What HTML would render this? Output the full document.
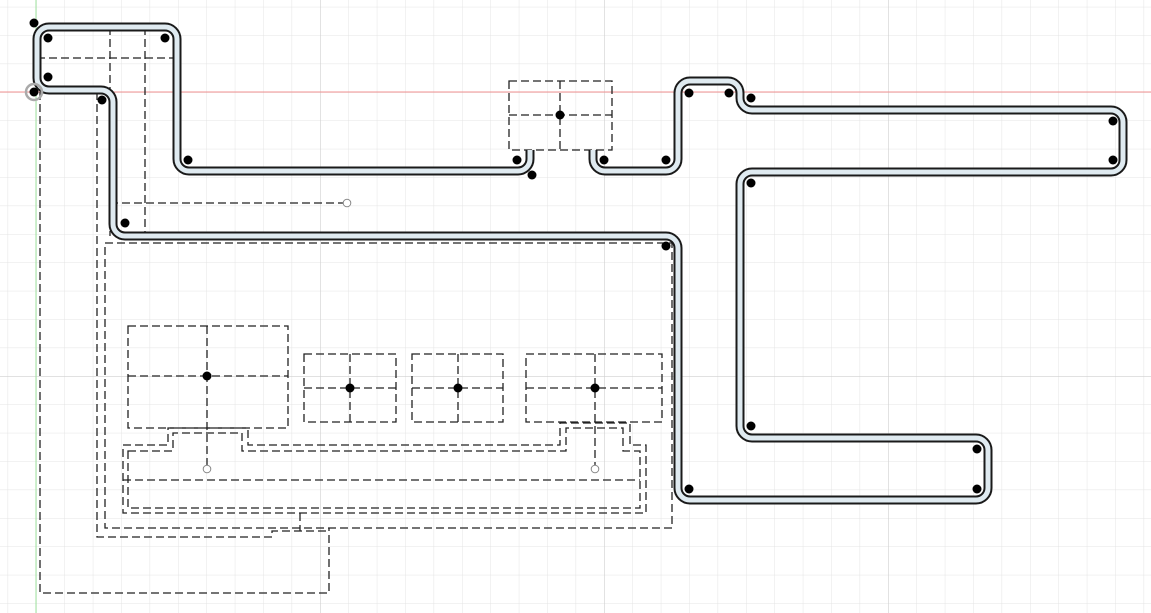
<!DOCTYPE html>
<html><head><meta charset="utf-8"><style>html,body{margin:0;padding:0;background:#fff}svg{display:block}</style></head>
<body>
<svg width="1151" height="613" viewBox="0 0 1151 613" xmlns="http://www.w3.org/2000/svg">
<defs>
<pattern id="g" x="36" y="92" width="28.4" height="28.4" patternUnits="userSpaceOnUse">
<path d="M0 0H28.4M0 0V28.4" stroke="#e4e4e4" stroke-width="1" fill="none"/>
</pattern>
<pattern id="G" x="36" y="92" width="284" height="284" patternUnits="userSpaceOnUse">
<path d="M0 0H284M0 0V284" stroke="#cfcfcf" stroke-width="1.2" fill="none"/>
</pattern>
</defs>
<rect width="1151" height="613" fill="url(#g)"/>
<rect width="1151" height="613" fill="url(#G)"/>
<line x1="0" y1="92" x2="1151" y2="92" stroke="#f19090" stroke-width="1"/>
<line x1="36" y1="0" x2="36" y2="613" stroke="#9ee39e" stroke-width="1"/>

<g fill="none" stroke="#222" stroke-width="1.3" stroke-dasharray="8,4">
<line x1="37" y1="58" x2="177" y2="58"/>
<line x1="110" y1="27" x2="110" y2="236"/>
<line x1="145" y1="27" x2="145" y2="238"/>
<line x1="110" y1="203" x2="343" y2="203"/>
<path d="M40 92 V593 H329 V528"/>
<path d="M97 92 V537 H272 V531 H329"/>
<line x1="300" y1="513" x2="300" y2="531"/>
<rect x="105" y="243" width="567" height="285"/>
<path d="M123 445 H168 V428 H248 V445 H560 V423 H630 V445 H646 V513 H123 Z"/>
<path d="M128 451 H173 V433 H242 V451 H566 V428 H623 V451 H640 V508 H128 Z"/>
<line x1="123" y1="480" x2="640" y2="480"/>
<rect x="509" y="81" width="103" height="69"/>
<line x1="509" y1="115" x2="612" y2="115"/><line x1="560" y1="81" x2="560" y2="150"/>
<rect x="128" y="326" width="160" height="102"/>
<line x1="128" y1="376" x2="288" y2="376"/><line x1="207" y1="326" x2="207" y2="465"/>
<rect x="304" y="354" width="92" height="68"/>
<line x1="304" y1="388" x2="396" y2="388"/><line x1="350" y1="354" x2="350" y2="422"/>
<rect x="412" y="354" width="91" height="68"/>
<line x1="412" y1="388" x2="503" y2="388"/><line x1="458" y1="354" x2="458" y2="422"/>
<rect x="526" y="354" width="136" height="68"/>
<line x1="526" y1="388" x2="662" y2="388"/><line x1="595" y1="354" x2="595" y2="465"/>
</g>

<g fill="none" stroke-linejoin="round">
<path d="M530 150 V159 a12 12 0 0 1 -12 12 H189 a12 12 0 0 1 -12 -12 V39 a12 12 0 0 0 -12 -12 H49 a12 12 0 0 0 -12 12 V78 a12 12 0 0 0 12 12 H101 a12 12 0 0 1 12 12 V224 a12 12 0 0 0 12 12 H666 a12 12 0 0 1 12 12 V488 a12 12 0 0 0 12 12 H976 a12 12 0 0 0 12 -12 V450 a12 12 0 0 0 -12 -12 H752 a12 12 0 0 1 -12 -12 V184 a12 12 0 0 1 12 -12 H1111 a12 12 0 0 0 12 -12 V122 a12 12 0 0 0 -12 -12 H752 a12 12 0 0 1 -12 -12 V93 a12 12 0 0 0 -12 -12 H690 a12 12 0 0 0 -12 12 V159 a12 12 0 0 1 -12 12 H605 a12 12 0 0 1 -12 -12 V150" stroke="#1a1a1a" stroke-width="9"/>
<path d="M530 150 V159 a12 12 0 0 1 -12 12 H189 a12 12 0 0 1 -12 -12 V39 a12 12 0 0 0 -12 -12 H49 a12 12 0 0 0 -12 12 V78 a12 12 0 0 0 12 12 H101 a12 12 0 0 1 12 12 V224 a12 12 0 0 0 12 12 H666 a12 12 0 0 1 12 12 V488 a12 12 0 0 0 12 12 H976 a12 12 0 0 0 12 -12 V450 a12 12 0 0 0 -12 -12 H752 a12 12 0 0 1 -12 -12 V184 a12 12 0 0 1 12 -12 H1111 a12 12 0 0 0 12 -12 V122 a12 12 0 0 0 -12 -12 H752 a12 12 0 0 1 -12 -12 V93 a12 12 0 0 0 -12 -12 H690 a12 12 0 0 0 -12 12 V159 a12 12 0 0 1 -12 12 H605 a12 12 0 0 1 -12 -12 V150" stroke="#dfeaf0" stroke-width="5"/>
</g>

<circle cx="34" cy="92" r="8" fill="none" stroke="#aaa" stroke-width="2.5"/>
<g fill="#000">
<circle cx="34" cy="23" r="4.5"/><circle cx="48" cy="38" r="4.5"/><circle cx="165" cy="38" r="4.5"/>
<circle cx="48" cy="77" r="4.5"/><circle cx="34" cy="92" r="4.5"/><circle cx="102" cy="100" r="4.5"/>
<circle cx="188" cy="160" r="4.5"/><circle cx="125" cy="223" r="4.5"/><circle cx="517" cy="160" r="4.5"/>
<circle cx="532" cy="175" r="4.5"/><circle cx="560" cy="115" r="4.5"/><circle cx="604" cy="160" r="4.5"/>
<circle cx="666" cy="160" r="4.5"/><circle cx="689" cy="93" r="4.5"/><circle cx="729" cy="93" r="4.5"/>
<circle cx="751" cy="98" r="4.5"/><circle cx="1113" cy="121" r="4.5"/><circle cx="1113" cy="160" r="4.5"/>
<circle cx="751" cy="183" r="4.5"/><circle cx="666" cy="246" r="4.5"/><circle cx="751" cy="426" r="4.5"/>
<circle cx="977" cy="449" r="4.5"/><circle cx="977" cy="489" r="4.5"/><circle cx="689" cy="489" r="4.5"/>
<circle cx="207" cy="376" r="4.5"/><circle cx="350" cy="388" r="4.5"/><circle cx="458" cy="388" r="4.5"/>
<circle cx="595" cy="388" r="4.5"/>
</g>
<g fill="#fff" stroke="#888" stroke-width="1">
<circle cx="347" cy="203" r="3.8"/><circle cx="207" cy="469" r="3.8"/><circle cx="595" cy="469" r="3.8"/>
</g>
</svg>
</body></html>
